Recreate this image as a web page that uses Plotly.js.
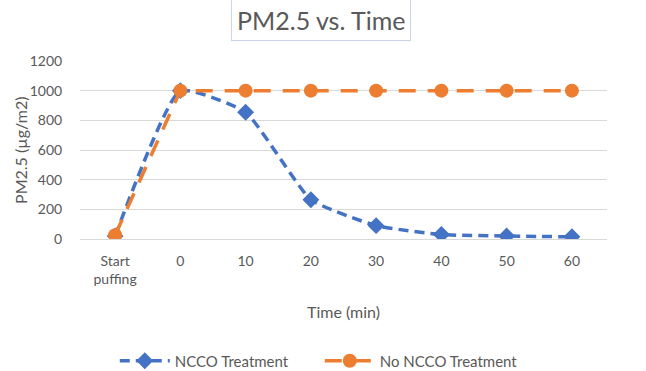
<!DOCTYPE html>
<html><head><meta charset="utf-8">
<script src="https://cdn.plot.ly/plotly-3.0.1.min.js"></script>
<style>body{margin:0;background:#fff}#c{width:646px;height:371px}</style>
</head><body><div id="c"></div>
<script>
const categories = ["Start<br>puffing","0","10","20","30","40","50","60"];
const nccoValues = [20,1000,855,265,90,30,20,15];
const noNccoValues = [25,1000,1000,1000,1000,1000,1000,1000];
const yTicks = [0,200,400,600,800,1000,1200];

const font = "Lato, 'Open Sans', sans-serif";
const traces = [
  {x: categories, y: nccoValues, name: "NCCO Treatment", type: "scatter", mode: "lines+markers",
   line: {color: "#4472C4", width: 3.5, dash: "10px,6px", shape: "spline", smoothing: 0.45},
   marker: {symbol: "diamond", size: 13, color: "#4472C4"}},
  {x: categories, y: noNccoValues, name: "No NCCO Treatment", type: "scatter", mode: "lines+markers",
   line: {color: "#ED7D31", width: 3.5, dash: "17px,12px"},
   marker: {symbol: "circle", size: 14, color: "#ED7D31"}}
];
const layout = {
  width: 646, height: 371,
  margin: {l: 80, r: 39, t: 61, b: 132, autoexpand: false},
  paper_bgcolor: "#fff", plot_bgcolor: "#fff",
  font: {family: font, color: "#595959", size: 14},
  showlegend: true,
  legend: {orientation: "h", x: 0.455, xanchor: "center", yref: "container", y: 0.027, yanchor: "middle",
           font: {size: 15, color: "#595959"}, itemwidth: 50, traceorder: "normal",
           entrywidth: 140, entrywidthmode: "pixels"},
  xaxis: {type: "category", showgrid: false, zeroline: false, showline: true, linecolor: "#d9d9d9",
          ticks: "outside", ticklen: 9, tickcolor: "rgba(0,0,0,0)", tickfont: {size: 14, color: "#595959"},
          automargin: false},
  yaxis: {range: [0, 1200], tickvals: yTicks, showgrid: true, gridcolor: "#d9d9d9", gridwidth: 1,
          zeroline: false, showline: false, ticks: "outside", ticklen: 14, tickcolor: "rgba(0,0,0,0)",
          tickfont: {size: 14, color: "#595959"}, automargin: false},
  annotations: [
    {text: "PM2.5 vs. Time", xref: "paper", yref: "paper", x: 0.457, y: 1, yanchor: "bottom",
     yshift: 20, showarrow: false, font: {size: 25, color: "#595959", family: font},
     bordercolor: "#c9d4e8", borderwidth: 1, borderpad: 5, bgcolor: "#fff"},
    {text: "PM2.5 (µg/m2)", xref: "paper", yref: "paper", x: -0.114, y: 0.5, xanchor: "center", yanchor: "middle",
     textangle: -90, showarrow: false, font: {size: 16, color: "#595959", family: font}},
    {text: "Time (min)", xref: "paper", yref: "paper", x: 0.5, y: -0.405, xanchor: "center", yanchor: "middle",
     showarrow: false, font: {size: 16, color: "#595959", family: font}}
  ]
};
Plotly.newPlot("c", traces, layout, {displayModeBar: false, staticPlot: true});
</script></body></html>
